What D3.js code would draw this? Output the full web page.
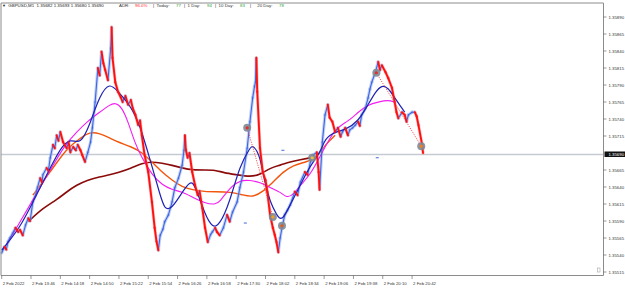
<!DOCTYPE html>
<html>
<head>
<meta charset="utf-8">
<script src="https://cdn.jsdelivr.net/npm/d3@7"></script>
<style>
  body { margin: 0; background: #fff; }
  svg { display: block; font-family: "Liberation Sans", Arial, sans-serif; }
</style>
</head>
<body>
<script>
// GBPUSD M1, minutes since 13:14 and close
var closeSeries = [
  [0,1.35543],[3,1.35552],[5,1.35548],[7,1.35560],[9,1.35565],[12,1.35572],[15,1.35580],[18,1.35574],[20,1.35577],[23,1.35569],
  [26,1.35584],[29,1.35594],[31,1.35590],[34,1.35618],[37,1.35628],[39,1.35639],[42,1.35653],[44,1.35647],[45,1.35658],[49,1.35668],
  [51,1.35664],[53,1.35683],[56,1.35702],[58,1.35697],[60,1.35716],[62,1.35708],[64,1.35721],
  [67,1.35706],[71,1.35697],[73,1.35706],[75,1.35691],[78,1.35699],[81,1.35694],[83,1.35702],[86,1.35694],[88,1.35687],[91,1.35677],[94,1.35691],
  [97,1.35706],[99,1.35727],[102,1.35765],[105,1.35815],[107,1.35804],[109,1.35839],[111,1.35822],[113,1.35812],[116,1.35797],[119,1.35844],[120,1.35875],
  [121,1.35830],[124,1.35794],[127,1.35780],[130,1.35772],[132,1.35765],[135,1.35774],[138,1.35761],[141,1.35768],[143,1.35756],[146,1.35746],[149,1.35731],[151,1.35738],[153,1.35716],
  [156,1.35687],[160,1.35662],[164,1.35618],[167,1.35580],[169,1.35560],[171,1.35547],[173,1.35569],[176,1.35578],[178,1.35589],[182,1.35599],
  [186,1.35618],[189,1.35639],[193,1.35653],[197,1.35672],[199,1.35694],[200,1.35716],[201,1.35695],[203,1.35683],[205,1.35690],[208,1.35662],[211,1.35643],
  [214,1.35628],[216,1.35634],[219,1.35609],[222,1.35580],[225,1.35559],[228,1.35570],[230,1.35574],[233,1.35580],[235,1.35574],[238,1.35569],
  [242,1.35580],[246,1.35599],[249,1.35589],[252,1.35603],[257,1.35618],[260,1.35639],[264,1.35662],[268,1.35697],
  [271,1.35736],[274,1.35771],[276,1.35788],[277,1.35794],[278,1.35830],[279,1.35780],[282,1.35697],[285,1.35662],[288,1.35650],[290,1.35633],
  [293,1.35599],[296,1.35580],[298,1.35570],[300,1.35559],[302,1.35544],[304,1.35565],[306,1.35580],[309,1.35599],[312,1.35606],[315,1.35614],[320,1.35633],
  [323,1.35628],[326,1.35647],[331,1.35662],[334,1.35658],[337,1.35677],[340,1.35687],[344,1.35691],[346,1.35662],[347,1.35636],[350,1.35706],
  [353,1.35746],[356,1.35761],[358,1.35742],[361,1.35736],[364,1.35721],[367,1.35727],[370,1.35714],[372,1.35721],[375,1.35727],[378,1.35716],
  [380,1.35724],[383,1.35727],[386,1.35731],[389,1.35736],[391,1.35730],[393,1.35746],[397,1.35756],[400,1.35771],[402,1.35784],[404,1.35794],[408,1.35809],
  [411,1.35824],[413,1.35812],[415,1.35819],[419,1.35809],[422,1.35800],[426,1.35786],[429,1.35765],[431,1.35750],[433,1.35741],[437,1.35750],
  [440,1.35746],[442,1.35736],[444,1.35746],[448,1.35750],[451,1.35750],[453,1.35744],[455,1.35731],[459,1.35702],[460,1.35690]
];

var maFast = [
  [0,1.35547],[20,1.35580],[34,1.35618],[53,1.35668],[64,1.35697],[75,1.35712],[86,1.35702],[96,1.35731],
  [107,1.35775],[118,1.35794],[127,1.35780],[140,1.35761],[151,1.35731],[162,1.35680],[173,1.35628],[178,1.35606],
  [186,1.35609],[195,1.35628],[206,1.35650],[211,1.35643],[222,1.35599],[230,1.35580],[238,1.35584],[249,1.35618],
  [260,1.35672],[271,1.35697],[274,1.35702],[282,1.35687],[287,1.35647],[293,1.35618],[300,1.35599],[306,1.35589],
  [315,1.35614],[326,1.35643],[337,1.35672],[348,1.35691],[353,1.35712],[364,1.35721],[375,1.35724],[389,1.35736],
  [400,1.35761],[408,1.35780],[415,1.35790],[422,1.35786],[429,1.35771],[437,1.35756],[440,1.35750]
];

var maMid = [
  [5,1.35555],[18,1.35584],[34,1.35621],[53,1.35665],[69,1.35702],[82,1.35721],[93,1.35736],[107,1.35750],
  [118,1.35761],[124,1.35764],[131,1.35758],[138,1.35736],[145,1.35706],[153,1.35683],[164,1.35658],[175,1.35643],
  [186,1.35636],[197,1.35633],[208,1.35625],[222,1.35616],[233,1.35614],[238,1.35618],[249,1.35639],[260,1.35650],
  [271,1.35650],[282,1.35647],[293,1.35639],[304,1.35633],[311,1.35624],[318,1.35628],[326,1.35643],[337,1.35658],
  [350,1.35691],[364,1.35727],[378,1.35736],[389,1.35750],[400,1.35761],[411,1.35765],[422,1.35768],[429,1.35765]
];

var maSlow = [
  [34,1.35628],[53,1.35662],[71,1.35697],[86,1.35712],[96,1.35721],[107,1.35719],[118,1.35712],[127,1.35706],
  [142,1.35699],[153,1.35691],[164,1.35677],[175,1.35662],[186,1.35650],[197,1.35640],[208,1.35636],[222,1.35633],
  [233,1.35633],[249,1.35633],[264,1.35628],[274,1.35625],[285,1.35633],[296,1.35647],[307,1.35662],[318,1.35672],
  [333,1.35677],[344,1.35683],[353,1.35702],[364,1.35716]
];

var maLong = [
  [29,1.35589],[45,1.35609],[60,1.35621],[71,1.35633],[82,1.35643],[93,1.35650],[107,1.35655],[118,1.35658],
  [127,1.35661],[142,1.35668],[153,1.35675],[164,1.35677],[175,1.35675],[186,1.35672],[197,1.35668],[208,1.35665],
  [222,1.35665],[233,1.35665],[242,1.35661],[257,1.35658],[271,1.35655],[282,1.35658],[293,1.35668],[304,1.35672],
  [315,1.35677],[326,1.35680],[337,1.35683]
];

var swingPoints = [[268,1.35727],[296,1.35596],[306,1.35583],[339,1.35683],[409,1.35808],[458,1.35700]];
var swingDots = ["#e0302a", "#f0a020", "#e05a20", "#e8c040", "#e0302a", "#f08020"];
var swingLinks = [[[268,1.35727],[296,1.35596]], [[409,1.35808],[458,1.35700]]];
var blueMarks = [[266,1.35587],[307,1.35694],[410,1.35683]];

var timeTicks = [0,32,64,96,128,160,192,224,256,288,320,352,384,416,448];
var timeLabels = ["2 Feb 2022","2 Feb 13:46","2 Feb 14:18","2 Feb 14:50","2 Feb 15:22","2 Feb 15:54",
  "2 Feb 16:26","2 Feb 16:58","2 Feb 17:30","2 Feb 18:02","2 Feb 18:34","2 Feb 19:06","2 Feb 19:38",
  "2 Feb 20:10","2 Feb 20:42"];
var priceTicks = [1.35890,1.35865,1.35840,1.35815,1.35790,1.35765,1.35740,1.35715,
  1.35665,1.35640,1.35615,1.35590,1.35565,1.35540,1.35515];
var lastPrice = 1.35690;

var symbolText = "GBPUSD,M1  1.35682 1.35693 1.35680 1.35690";
var adrPercent = "96.0%";
var adrNames = ["Today:", "1 Day:", "10 Day:", "20 Day:"];
var adrValues = [77, 94, 83, 78];

var width = 625, height = 290;
var plotRight = 603.5, plotTop = 3, plotBottom = 275.5;

var svg = d3.select('body').append('svg')
    .attr('width', width)
    .attr('height', height);

svg.append('rect').attr('width', width).attr('height', height).attr('fill', '#fff');

var x = d3.scaleLinear().domain([0, 460]).range([1.7, 1.7 + 460 * 0.916]);
var y = d3.scaleLinear().domain([1.35515, 1.35890]).range([272, 17]);

var line = d3.line()
    .x(function(d) { return x(d[0]); })
    .y(function(d) { return y(d[1]); });

var smooth = d3.line()
    .x(function(d) { return x(d[0]); })
    .y(function(d) { return y(d[1]); })
    .curve(d3.curveBasis);

function segments(g, data, color, w, op) {
    g.selectAll('line')
        .data(data)
        .enter().append('line')
        .attr('x1', function(d) { return x(d[0][0]); })
        .attr('y1', function(d) { return y(d[0][1]); })
        .attr('x2', function(d) { return x(d[1][0]); })
        .attr('y2', function(d) { return y(d[1][1]); })
        .attr('stroke', color)
        .attr('stroke-opacity', op)
        .attr('stroke-width', w)
        .attr('stroke-linecap', 'round');
}

// current price line
svg.append('line')
    .attr('x1', 1).attr('x2', plotRight)
    .attr('y1', y(lastPrice) + 1.5).attr('y2', y(lastPrice) + 1.5)
    .attr('stroke', '#c6cad2').attr('stroke-width', 1.5);

// slow averages first
svg.append('path').attr('d', smooth(maLong))
    .attr('fill', 'none').attr('stroke', '#8b0a0a').attr('stroke-width', 1.6);
svg.append('path').attr('d', smooth(maSlow))
    .attr('fill', 'none').attr('stroke', '#f2550c').attr('stroke-width', 1.4);

var pairs = d3.pairs(closeSeries);
var ups = pairs.filter(function(d) { return d[1][1] >= d[0][1]; });
var downs = pairs.filter(function(d) { return d[1][1] < d[0][1]; });

// bar-range haze
segments(svg.append('g'), ups, '#8aa6f2', 3.2, 0.5);
segments(svg.append('g'), downs, '#f48c8c', 3.2, 0.5);

svg.append('path').attr('d', smooth(maMid))
    .attr('fill', 'none').attr('stroke', '#f21cf2').attr('stroke-width', 1.1);

// close line, rising legs blue, falling legs red
segments(svg.append('g'), ups, '#3f66dd', 1.1, 1);

svg.append('path').attr('d', smooth(maFast))
    .attr('fill', 'none').attr('stroke', '#1e22b4').attr('stroke-width', 1.2);

segments(svg.append('g'), downs, '#ff1010', 1.9, 1);

// zigzag links
svg.append('g').selectAll('path')
    .data(swingLinks)
    .enter().append('path')
    .attr('d', line)
    .attr('fill', 'none')
    .attr('stroke', '#f03030')
    .attr('stroke-width', 0.8)
    .attr('stroke-dasharray', '1.2,1.2');

svg.append('g').selectAll('line')
    .data(blueMarks)
    .enter().append('line')
    .attr('x1', function(d) { return x(d[0]) - 1.5; })
    .attr('x2', function(d) { return x(d[0]) + 1.5; })
    .attr('y1', function(d) { return y(d[1]); })
    .attr('y2', function(d) { return y(d[1]); })
    .attr('stroke', '#3f66dd').attr('stroke-width', 1);

var swing = svg.append('g').selectAll('g')
    .data(swingPoints)
    .enter().append('g')
    .attr('transform', function(d) { return 'translate(' + x(d[0]) + ',' + y(d[1]) + ')'; });
swing.append('circle').attr('r', 4).attr('fill', '#7e8896').attr('fill-opacity', 0.9);
swing.append('circle').attr('r', 1.6)
    .attr('fill', function(d, i) { return swingDots[i]; });

// frame
svg.append('path')
    .attr('d', 'M1,' + plotTop + 'H' + plotRight + 'V' + plotBottom + 'H1Z')
    .attr('fill', 'none').attr('stroke', '#8c8c8c').attr('stroke-width', 1);

// price axis
var yAxis = svg.append('g');
yAxis.selectAll('line')
    .data(priceTicks)
    .enter().append('line')
    .attr('x1', plotRight).attr('x2', plotRight + 3)
    .attr('y1', function(d) { return y(d); }).attr('y2', function(d) { return y(d); })
    .attr('stroke', '#555').attr('stroke-width', 0.6);
yAxis.selectAll('text')
    .data(priceTicks)
    .enter().append('text')
    .attr('x', plotRight + 5)
    .attr('y', function(d) { return y(d); })
    .attr('dy', '0.35em')
    .attr('font-size', 4.3)
    .attr('fill', '#333')
    .text(function(d) { return d3.format('.5f')(d); });

svg.append('rect')
    .attr('x', plotRight + 1).attr('y', y(lastPrice) - 1.5)
    .attr('width', 21).attr('height', 5.5)
    .attr('fill', '#111');
svg.append('text')
    .attr('x', plotRight + 5).attr('y', y(lastPrice) + 1.3)
    .attr('dy', '0.35em')
    .attr('font-size', 4.3).attr('fill', '#fff')
    .text(d3.format('.5f')(lastPrice));

// time axis
var xAxis = svg.append('g');
xAxis.selectAll('line')
    .data(timeTicks)
    .enter().append('line')
    .attr('x1', function(d) { return x(d); }).attr('x2', function(d) { return x(d); })
    .attr('y1', plotBottom).attr('y2', plotBottom + 3.5)
    .attr('stroke', '#555').attr('stroke-width', 0.6);
xAxis.selectAll('text')
    .data(timeTicks)
    .enter().append('text')
    .attr('x', function(d) { return x(d) + 1; })
    .attr('y', plotBottom + 9)
    .attr('font-size', 4.3)
    .attr('fill', '#333')
    .text(function(d, i) { return timeLabels[i]; });

// little shift marker bottom right
svg.append('rect').attr('x', 597.5).attr('y', 268).attr('width', 2.5).attr('height', 4)
    .attr('fill', 'none').attr('stroke', '#999').attr('stroke-width', 0.5);

// header
svg.append('text').attr('x', 2).attr('y', 7.3).attr('font-size', 4).attr('fill', '#222').text('\u25BC');
svg.append('text').attr('x', 8.3).attr('y', 7.3).attr('font-size', 4.4).attr('fill', '#222')
    .style('white-space', 'pre').text(symbolText);

var head = svg.append('g').attr('font-size', 4.4);
head.append('text').attr('x', 119).attr('y', 7.3).attr('fill', '#333').text('ADR:');
head.append('text').attr('x', 135).attr('y', 7.3).attr('fill', '#ff2a2a').text(adrPercent);
var nameX = [153, 184, 215, 250], valX = [176, 207, 240, 279];
adrNames.forEach(function(n, i) {
    var label = (i < 3 ? '|  ' : '|     ') + n;
    head.append('text').attr('x', nameX[i]).attr('y', 7.3).attr('fill', '#333')
        .style('white-space', 'pre').text(label);
    head.append('text').attr('x', valX[i]).attr('y', 7.3).attr('fill', '#2ea043')
        .text(adrValues[i]);
});
</script>
</body>
</html>
